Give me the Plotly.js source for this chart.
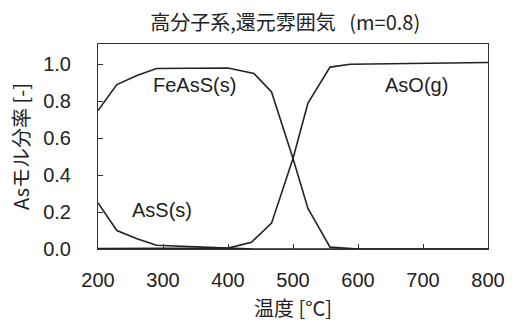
<!DOCTYPE html>
<html>
<head>
<meta charset="utf-8">
<script src="https://cdn.plot.ly/plotly-3.0.1.min.js"></script>
<style>html,body{margin:0;padding:0;background:#fff;}#chart{width:514px;height:322px;}</style>
</head>
<body>
<div id="chart"></div>
<script>
// Temperature (°C) and As mole fractions
const feassT = [200, 229, 260, 290, 400, 440, 467, 500, 523, 557, 600, 800];
const feassV = [0.75, 0.89, 0.94, 0.977, 0.98, 0.95, 0.85, 0.49, 0.22, 0.01, 0.0, 0.0];

const asoT = [200, 300, 400, 436, 467, 500, 523, 557, 588, 800];
const asoV = [0.003, 0.003, 0.005, 0.036, 0.14, 0.49, 0.79, 0.985, 1.0, 1.01];

const assT = [200, 229, 260, 290, 400, 440, 800];
const assV = [0.25, 0.10, 0.055, 0.02, 0.005, 0.0, 0.0];

const seriesLabels = ["FeAsS(s)", "AsO(g)", "AsS(s)"];
const labelT = [349, 690, 298];
const labelV = [0.886, 0.886, 0.21];

const xTicks = [200, 300, 400, 500, 600, 700, 800];
const yTicks = [0.0, 0.2, 0.4, 0.6, 0.8, 1.0];
const yTickText = ["0.0", "0.2", "0.4", "0.6", "0.8", "1.0"];

const FONT = "Liberation Sans, Arial, Noto Sans CJK JP, sans-serif";
const CJK = "Noto Sans CJK JP, Liberation Sans, sans-serif";
const lineStyle = {color: "#222", width: 1.6};

const traces = [
  {x: feassT, y: feassV, mode: "lines", line: lineStyle, name: seriesLabels[0], hoverinfo: "skip"},
  {x: asoT, y: asoV, mode: "lines", line: lineStyle, name: seriesLabels[1], hoverinfo: "skip"},
  {x: assT, y: assV, mode: "lines", line: lineStyle, name: seriesLabels[2], hoverinfo: "skip"}
];

const annotations = seriesLabels.map((t, i) => ({
  x: labelT[i], y: labelV[i], xref: "x", yref: "y", text: t, showarrow: false,
  font: {family: FONT, size: 20, color: "#222"}
}));

const layout = {
  width: 514, height: 322,
  margin: {l: 98, r: 26, t: 44, b: 73, pad: 0},
  paper_bgcolor: "#fff", plot_bgcolor: "#fff",
  showlegend: false,
  font: {family: FONT, color: "#222", size: 20},
  title: {
    text: "高分子系,還元雰囲気   (m=0.8)",
    font: {family: CJK, size: 20, color: "#222"},
    x: 0.555, xanchor: "center", y: 0.93, yanchor: "middle"
  },
  xaxis: {
    range: [200, 800], tickvals: xTicks, ticktext: xTicks.map(String),
    ticks: "inside", ticklen: 5, tickcolor: "#333", tickwidth: 1,
    showline: true, linecolor: "#333", linewidth: 1, mirror: true,
    showgrid: false, zeroline: false,
    ticklabelstandoff: 13,
    tickfont: {family: FONT, size: 20, color: "#222"},
    title: {text: "温度 [°C]", font: {family: CJK, size: 20, color: "#222"}, standoff: 13}
  },
  yaxis: {
    range: [0, 1.11], tickvals: yTicks, ticktext: yTickText,
    ticks: "inside", ticklen: 5, tickcolor: "#333", tickwidth: 1,
    showline: true, linecolor: "#333", linewidth: 1, mirror: true,
    showgrid: false, zeroline: false,
    ticklabelstandoff: 22,
    tickfont: {family: FONT, size: 20, color: "#222"},
    title: {text: "Asモル分率 [-]", font: {family: CJK, size: 20, color: "#222"}, standoff: 8}
  },
  annotations: annotations
};

Plotly.newPlot("chart", traces, layout, {staticPlot: true, displayModeBar: false});
</script>
</body>
</html>
